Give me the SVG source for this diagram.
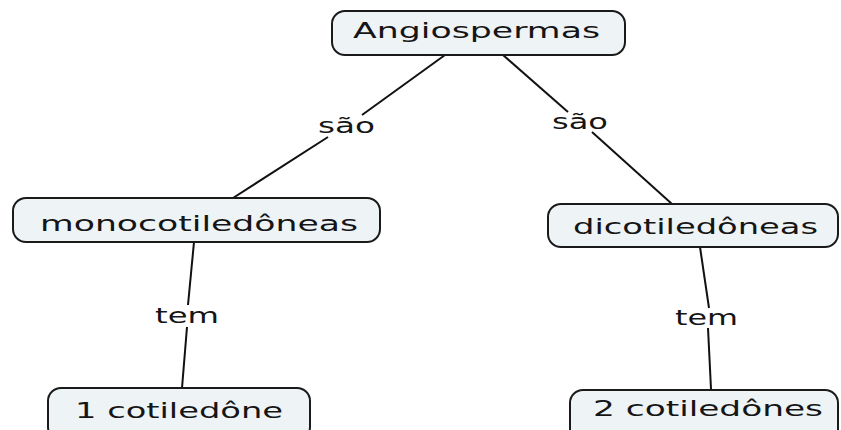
<svg xmlns="http://www.w3.org/2000/svg" width="841" height="430" viewBox="0 0 841 430">
<style>
.box{fill:#eef3f6;stroke:#1a1a1a;stroke-width:2}
.nt{font-family:"DejaVu Sans",Verdana,sans-serif;font-size:21.5px;fill:#151515;text-anchor:start}
.lt{font-family:"DejaVu Sans",Verdana,sans-serif;font-size:20.5px;fill:#151515;text-anchor:start}
.ln{stroke:#111;stroke-width:2;fill:none}
</style>
<rect width="841" height="430" fill="#ffffff"/>
<g id="connectors">
<line class="ln" x1="445" y1="55" x2="362" y2="115"/>
<line class="ln" x1="328" y1="137" x2="233" y2="198"/>
<line class="ln" x1="503" y1="55" x2="568" y2="112"/>
<line class="ln" x1="592" y1="132" x2="672" y2="204"/>
<line class="ln" x1="194" y1="242" x2="188" y2="305"/>
<line class="ln" x1="187" y1="327" x2="182" y2="388"/>
<line class="ln" x1="700" y1="247" x2="709" y2="308"/>
<line class="ln" x1="708" y1="328" x2="711" y2="389"/>
<text class="lt" x="318" y="133" textLength="57" lengthAdjust="spacingAndGlyphs">são</text>
<text class="lt" x="552" y="129" textLength="56" lengthAdjust="spacingAndGlyphs">são</text>
<text class="lt" x="155" y="323" textLength="64" lengthAdjust="spacingAndGlyphs">tem</text>
<text class="lt" x="675" y="325" textLength="63" lengthAdjust="spacingAndGlyphs">tem</text>
</g>
<g id="angiospermas">
<rect class="box" x="332" y="11" width="293" height="44" rx="13"/>
<text class="nt" x="353" y="38" textLength="247" lengthAdjust="spacingAndGlyphs">Angiospermas</text>
</g>
<g id="monocotiledoneas">
<rect class="box" x="13" y="198" width="367" height="44" rx="13"/>
<text class="nt" x="40" y="231" textLength="318" lengthAdjust="spacingAndGlyphs">monocotiledôneas</text>
</g>
<g id="dicotiledoneas">
<rect class="box" x="548" y="204" width="290" height="43" rx="13"/>
<text class="nt" x="573" y="234" textLength="245" lengthAdjust="spacingAndGlyphs">dicotiledôneas</text>
</g>
<g id="um-cotiledone">
<rect class="box" x="48" y="388" width="262" height="52" rx="13"/>
<text class="nt" x="75" y="418" textLength="208" lengthAdjust="spacingAndGlyphs">1 cotiledône</text>
</g>
<g id="dois-cotiledones">
<rect class="box" x="570" y="390" width="268" height="52" rx="13"/>
<text class="nt" x="593" y="416" textLength="230" lengthAdjust="spacingAndGlyphs">2 cotiledônes</text>
</g>
</svg>
